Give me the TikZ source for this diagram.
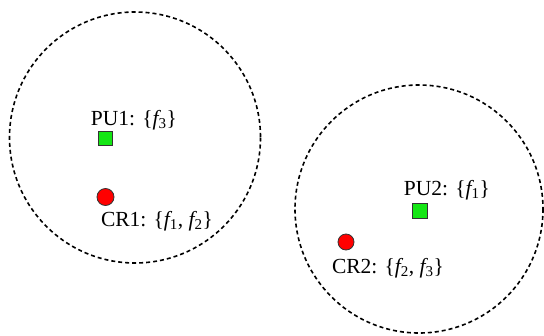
\documentclass[tikz,border=0pt]{standalone}
\usepackage{fontspec}
\setmainfont{Liberation Serif}
\newcommand{\fvar}[1]{{\itshape f}\textsubscript{#1}}
\begin{document}
\begin{tikzpicture}[x=1pt,y=-1pt,
  zone/.style={draw=black,line width=1.6pt,dash pattern=on 4pt off 3pt},
  pu/.style={draw=black!80,line width=0.8pt,minimum size=14pt,inner sep=0pt},
  cr/.style={circle,draw=black!80,fill=red,line width=0.8pt,minimum size=17pt,inner sep=0pt},
  lbl/.style={font=\fontsize{21.5}{25}\selectfont,inner sep=0pt}]
\useasboundingbox (0,0) rectangle (544,335);
\draw[zone] (135,137.5) circle[radius=125.5];
\draw[zone] (419,209) circle[radius=124];
\node[pu,fill={rgb,255:red,20;green,230;blue,20}] (pu1) at (105,138) {};
\node[cr] (cr1) at (105.5,197) {};
\node[pu,fill={rgb,255:red,20;green,230;blue,20},minimum size=15pt] (pu2) at (419.5,211) {};
\node[cr,minimum size=16pt] (cr2) at (346,242) {};
\node[lbl] (pu1l) at (134,120) {PU1: \{\fvar{3}\}};
\node[lbl] (cr1l) at (157,221) {CR1: \{\fvar{1}, \fvar{2}\}};
\node[lbl] (pu2l) at (447,190) {PU2: \{\fvar{1}\}};
\node[lbl] (cr2l) at (388,268) {CR2: \{\fvar{2}, \fvar{3}\}};
\end{tikzpicture}
\end{document}
